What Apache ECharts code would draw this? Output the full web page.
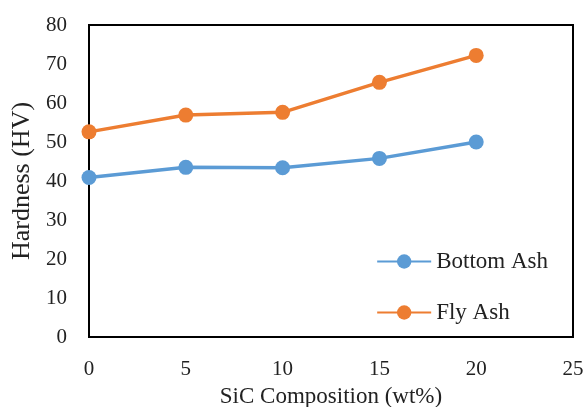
<!DOCTYPE html>
<html><head><meta charset="utf-8">
<script src="https://cdn.jsdelivr.net/npm/echarts@6/dist/echarts.min.js"></script>
<style>html,body{margin:0;padding:0;background:#fff}#c{width:585px;height:407px}</style>
</head><body><div id="c"></div>
<script>
var sicComposition = [0, 5, 10, 15, 20];
var bottomAsh = [40.9, 43.5, 43.4, 45.8, 50.0];
var flyAsh = [52.6, 56.9, 57.6, 65.3, 72.2];
var seriesNames = ['Bottom Ash', 'Fly Ash'];
var xTitle = 'SiC Composition (wt%)';
var yTitle = 'Hardness (HV)';

var font = 'Liberation Serif';
var chart = echarts.init(document.getElementById('c'), null, {renderer: 'canvas'});
function pairs(vals){ return sicComposition.map(function(x,i){ return [x, vals[i]]; }); }
chart.setOption({
  animation: false,
  textStyle: {fontFamily: font},
  grid: {left: 89, right: 12, top: 25, bottom: 70, show: true, borderColor: '#000', borderWidth: 2,
         backgroundColor: 'transparent', outerBoundsMode: 'none', containLabel: false},
  legend: {
    orient: 'vertical', right: 32, top: 245, itemGap: 28, itemWidth: 54, itemHeight: 18,
    textStyle: {fontFamily: font, fontSize: 23, color: '#222'},
    data: seriesNames
  },
  xAxis: {
    type: 'value', min: 0, max: 25, interval: 5,
    name: xTitle, nameLocation: 'middle', nameGap: 48, nameMoveOverlap: false,
    nameTextStyle: {fontFamily: font, fontSize: 23, color: '#222'},
    axisLine: {show: true, lineStyle: {color: '#000', width: 2}},
    axisTick: {show: false}, splitLine: {show: false},
    axisLabel: {fontFamily: font, fontSize: 21, color: '#222', margin: 22}
  },
  yAxis: {
    type: 'value', min: 0, max: 80, interval: 10,
    name: yTitle, nameLocation: 'middle', nameGap: 54, nameMoveOverlap: false,
    nameTextStyle: {fontFamily: font, fontSize: 26, color: '#222'},
    axisLine: {show: true, lineStyle: {color: '#000', width: 2}},
    axisTick: {show: false}, splitLine: {show: false},
    axisLabel: {fontFamily: font, fontSize: 21, color: '#222', margin: 22}
  },
  series: [
    {name: seriesNames[0], type: 'line', data: pairs(bottomAsh), symbol: 'circle', symbolSize: 15,
     lineStyle: {color: '#5B9BD5', width: 3.5}, itemStyle: {color: '#5B9BD5'}},
    {name: seriesNames[1], type: 'line', data: pairs(flyAsh), symbol: 'circle', symbolSize: 15,
     lineStyle: {color: '#ED7D31', width: 3.5}, itemStyle: {color: '#ED7D31'}}
  ]
});
</script></body></html>
